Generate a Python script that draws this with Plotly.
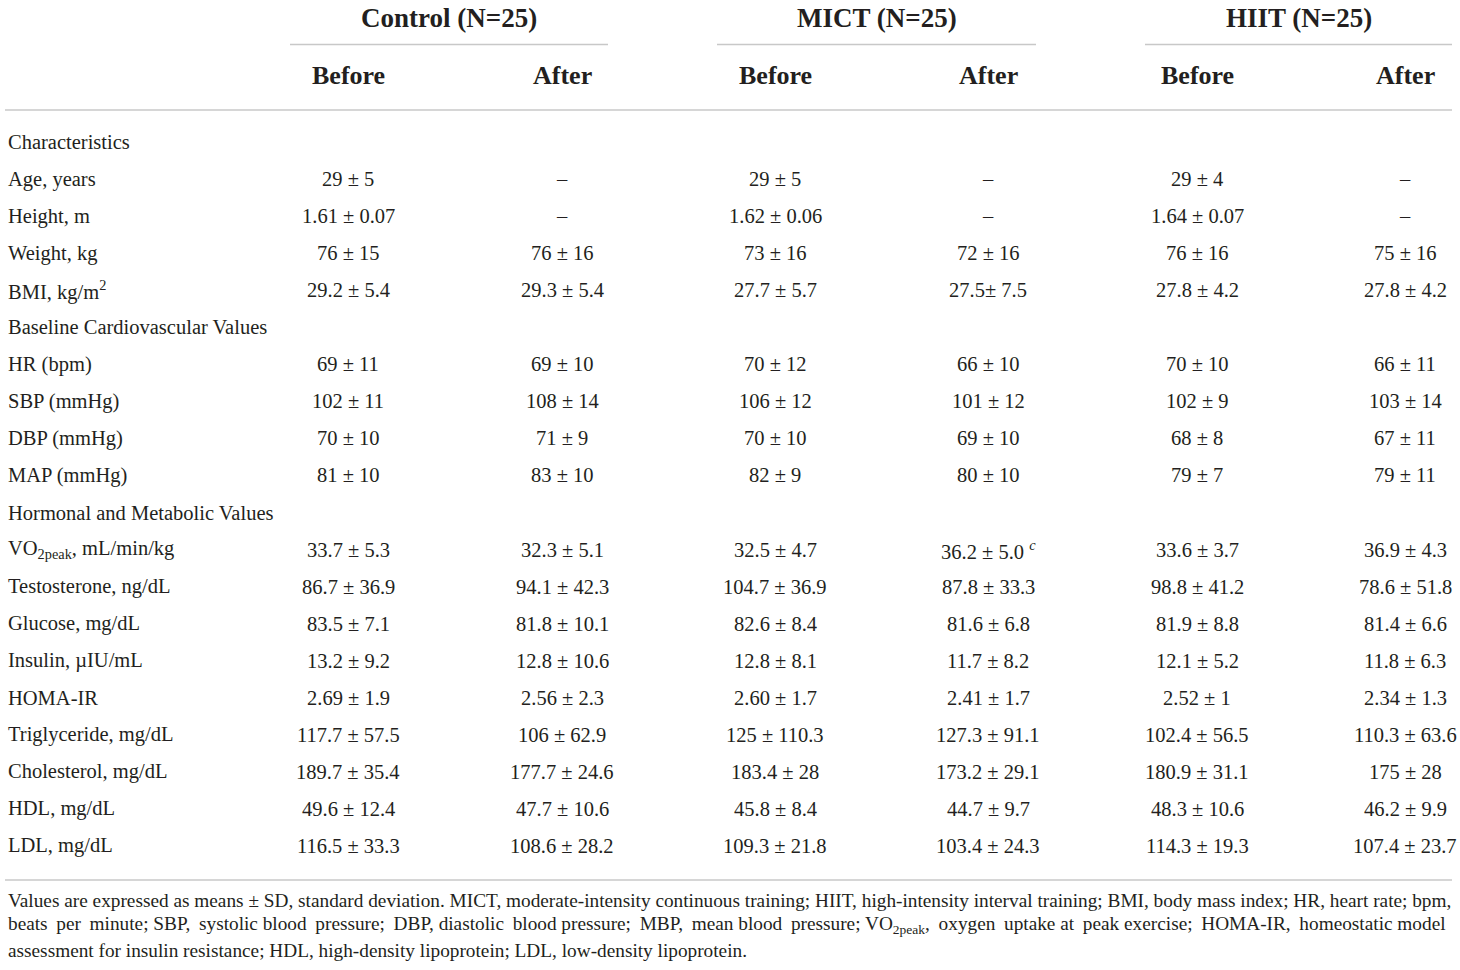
import plotly.graph_objects as go

# ---------------- data ----------------
groups = ["Control (N=25)", "MICT (N=25)", "HIIT (N=25)"]
subheaders = ["Before", "After", "Before", "After", "Before", "After"]

row_labels = [
    "Characteristics",
    "Age, years",
    "Height, m",
    "Weight, kg",
    "BMI, kg/m<sup>2</sup>",
    "Baseline Cardiovascular Values",
    "HR (bpm)",
    "SBP (mmHg)",
    "DBP (mmHg)",
    "MAP (mmHg)",
    "Hormonal and Metabolic Values",
    "VO<sub>2peak</sub>, mL/min/kg",
    "Testosterone, ng/dL",
    "Glucose, mg/dL",
    "Insulin, µIU/mL",
    "HOMA-IR",
    "Triglyceride, mg/dL",
    "Cholesterol, mg/dL",
    "HDL, mg/dL",
    "LDL, mg/dL",
]

control_before = ["", "29 ± 5", "1.61 ± 0.07", "76 ± 15", "29.2 ± 5.4", "",
                  "69 ± 11", "102 ± 11", "70 ± 10", "81 ± 10", "",
                  "33.7 ± 5.3", "86.7 ± 36.9", "83.5 ± 7.1", "13.2 ± 9.2", "2.69 ± 1.9",
                  "117.7 ± 57.5", "189.7 ± 35.4", "49.6 ± 12.4", "116.5 ± 33.3"]
control_after = ["", "–", "–", "76 ± 16", "29.3 ± 5.4", "",
                 "69 ± 10", "108 ± 14", "71 ± 9", "83 ± 10", "",
                 "32.3 ± 5.1", "94.1 ± 42.3", "81.8 ± 10.1", "12.8 ± 10.6", "2.56 ± 2.3",
                 "106 ± 62.9", "177.7 ± 24.6", "47.7 ± 10.6", "108.6 ± 28.2"]
mict_before = ["", "29 ± 5", "1.62 ± 0.06", "73 ± 16", "27.7 ± 5.7", "",
               "70 ± 12", "106 ± 12", "70 ± 10", "82 ± 9", "",
               "32.5 ± 4.7", "104.7 ± 36.9", "82.6 ± 8.4", "12.8 ± 8.1", "2.60 ± 1.7",
               "125 ± 110.3", "183.4 ± 28", "45.8 ± 8.4", "109.3 ± 21.8"]
mict_after = ["", "–", "–", "72 ± 16", "27.5± 7.5", "",
              "66 ± 10", "101 ± 12", "69 ± 10", "80 ± 10", "",
              "36.2 ± 5.0 <sup><i>c</i></sup>", "87.8 ± 33.3", "81.6 ± 6.8", "11.7 ± 8.2", "2.41 ± 1.7",
              "127.3 ± 91.1", "173.2 ± 29.1", "44.7 ± 9.7", "103.4 ± 24.3"]
hiit_before = ["", "29 ± 4", "1.64 ± 0.07", "76 ± 16", "27.8 ± 4.2", "",
               "70 ± 10", "102 ± 9", "68 ± 8", "79 ± 7", "",
               "33.6 ± 3.7", "98.8 ± 41.2", "81.9 ± 8.8", "12.1 ± 5.2", "2.52 ± 1",
               "102.4 ± 56.5", "180.9 ± 31.1", "48.3 ± 10.6", "114.3 ± 19.3"]
hiit_after = ["", "–", "–", "75 ± 16", "27.8 ± 4.2", "",
              "66 ± 11", "103 ± 14", "67 ± 11", "79 ± 11", "",
              "36.9 ± 4.3", "78.6 ± 51.8", "81.4 ± 6.6", "11.8 ± 6.3", "2.34 ± 1.3",
              "110.3 ± 63.6", "175 ± 28", "46.2 ± 9.9", "107.4 ± 23.7"]

footnote_lines = [
    "Values are expressed as means ± SD, standard deviation. MICT, moderate-intensity continuous training; HIIT, high-intensity interval training; BMI, body mass index; HR, heart rate; bpm,",
    "beats per minute; SBP, systolic blood pressure; DBP, diastolic blood pressure; MBP, mean blood pressure; VO<sub>2peak</sub>, oxygen uptake at peak exercise; HOMA-IR, homeostatic model",
    "assessment for insulin resistance; HDL, high-density lipoprotein; LDL, low-density lipoprotein.",
]

# ---------------- layout constants ----------------
W, H = 1460, 970
FONT = "Liberation Serif, Times New Roman, serif"
TXT = "#231f20"
RULE = "#c8c8c8"

col_x = [348, 562, 775, 988, 1197, 1405]
group_spans = [(290, 608), (717, 1036), (1145, 1452)]
label_x = 6
row_y0, row_dy = 142, 37.05
columns = [control_before, control_after, mict_before, mict_after, hiit_before, hiit_after]
foot_y = [900, 925, 950]
FOOT_SIZE = 19.3


def justify(line, pattern=(0, 1, 3)):
    # widen some word gaps with thin spaces to imitate justified text
    words = line.split(" ")
    out = words[0]
    for k, w in enumerate(words[1:]):
        out += " " + ("\u2009" if k % 5 in pattern else "") + w
    return out


fig = go.Figure()
ann = []

for g, (a, b) in zip(groups, group_spans):
    ann.append(dict(x=(a + b) / 2, y=18, text="<b>" + g + "</b>", showarrow=False,
                    xanchor="center", yanchor="middle", font=dict(size=27, color=TXT, family=FONT)))
for s, x in zip(subheaders, col_x):
    ann.append(dict(x=x, y=75, text="<b>" + s + "</b>", showarrow=False,
                    xanchor="center", yanchor="middle", font=dict(size=26, color=TXT, family=FONT)))

for i, lab in enumerate(row_labels):
    y = row_y0 + i * row_dy
    ann.append(dict(x=label_x, y=y, text=lab, showarrow=False, xanchor="left", yanchor="middle",
                    font=dict(size=20.5, color=TXT, family=FONT)))
    for col, x in zip(columns, col_x):
        v = col[i]
        if v:
            ann.append(dict(x=x, y=y, text=v, showarrow=False, xanchor="center", yanchor="middle",
                            font=dict(size=20.5, color=TXT, family=FONT)))

foot_texts = [footnote_lines[0], justify(footnote_lines[1]), footnote_lines[2]]
for t, y in zip(foot_texts, foot_y):
    ann.append(dict(x=label_x, y=y, text=t, showarrow=False, xanchor="left",
                    yanchor="middle", font=dict(size=FOOT_SIZE, color=TXT, family=FONT)))

shapes = []
for a, b in group_spans:
    shapes.append(dict(type="line", x0=a, x1=b, y0=44.5, y1=44.5, xref="x", yref="y",
                       line=dict(color=RULE, width=1.3)))
for yy in (110, 880):
    shapes.append(dict(type="line", x0=5, x1=1452, y0=yy, y1=yy, xref="x", yref="y",
                       line=dict(color=RULE, width=1.3)))

fig.update_layout(
    width=W, height=H,
    margin=dict(l=0, r=0, t=0, b=0),
    paper_bgcolor="white", plot_bgcolor="white",
    xaxis=dict(range=[0, W], visible=False, fixedrange=True),
    yaxis=dict(range=[H, 0], visible=False, fixedrange=True),
    annotations=ann, shapes=shapes, showlegend=False,
)

fig.write_html("out.html", post_script="document.body.style.margin='0';",
               config={"displayModeBar": False})
